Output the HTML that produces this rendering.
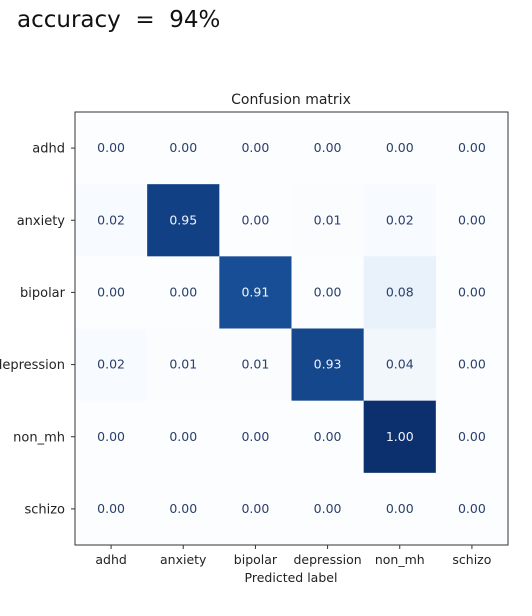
<!DOCTYPE html>
<html><head><meta charset="utf-8"><style>
body{margin:0;background:#fff;width:532px;height:612px;overflow:hidden;font-family:"DejaVu Sans","Liberation Sans",sans-serif}
</style></head><body>
<svg width="532" height="612">
<text x="17" y="27" font-size="23" fill="#111" style="white-space:pre" xml:space="preserve">accuracy  =  94%</text>
<text x="291" y="104" font-size="14" text-anchor="middle" fill="#222">Confusion matrix</text>
<g id="cells"></g>
<g id="axes"></g>
<rect x="75" y="112" width="433" height="433" fill="none" stroke="#333" stroke-width="1"/>
<text x="291" y="582" font-size="12.5" text-anchor="middle" fill="#222">Predicted label</text>
</svg>
<script>
const labels=["adhd","anxiety","bipolar","depression","non_mh","schizo"];
const row0=[0,0,0,0,0,0];
const row1=[0.02,0.95,0,0.01,0.02,0];
const row2=[0,0,0.91,0,0.08,0];
const row3=[0.02,0.01,0.01,0.93,0.04,0];
const row4=[0,0,0,0,1.00,0];
const row5=[0,0,0,0,0,0];
const matrix=[row0,row1,row2,row3,row4,row5];
const L=75,T=112,S=433,n=labels.length,cw=S/n;
const xs=i=>L+i*cw, ys=j=>T+j*cw;
const stops=["#fcfdff","#deebf7","#c6dbef","#9ecae1","#6baed6","#4292c6","#2171b5","#1c5aa6","#0c2f6e"];
function h2r(h){return [1,3,5].map(k=>parseInt(h.substr(k,2),16));}
function blues(v){v=Math.max(0,Math.min(1,v));const p=v*8,i=Math.min(7,Math.floor(p)),f=p-i;const a=h2r(stops[i]),b=h2r(stops[i+1]);return "rgb("+a.map((c,k)=>Math.round(c+(b[k]-c)*f)).join(",")+")";}
const NS="http://www.w3.org/2000/svg";
const cg=document.getElementById("cells"),ag=document.getElementById("axes");
function mk(t,at,p){const e=document.createElementNS(NS,t);for(const k in at)e.setAttribute(k,at[k]);p.appendChild(e);return e;}
matrix.forEach((row,j)=>row.forEach((v,i)=>{
 const r=mk("rect",{x:xs(i),y:ys(j),width:cw+0.5,height:cw+0.5,fill:blues(v)},cg);
 
 
 const t=mk("text",{x:xs(i)+cw/2,y:ys(j)+cw/2+4,"font-size":12.5,"text-anchor":"middle",fill:v>0.5?"#f0f4fa":"#2a3f6c"},cg);
 t.textContent=v.toFixed(2);
 
 
}));
labels.forEach((lb,i)=>{
 const cx=xs(i)+cw/2;
 mk("line",{x1:cx,y1:T+S,x2:cx,y2:T+S+4,stroke:"#333"},ag);
 const t=mk("text",{x:cx,y:T+S+19,"font-size":12.5,"text-anchor":"middle",fill:"#222"},ag);
 t.textContent=lb;
 
 
 const cy=ys(i)+cw/2;
 mk("line",{x1:L-4,y1:cy,x2:L,y2:cy,stroke:"#333"},ag);
 const u=mk("text",{x:L-10,y:cy+4.5,"font-size":13,"text-anchor":"end",fill:"#222"},ag);
 u.textContent=lb;
 
 
});
</script>
</body></html>
